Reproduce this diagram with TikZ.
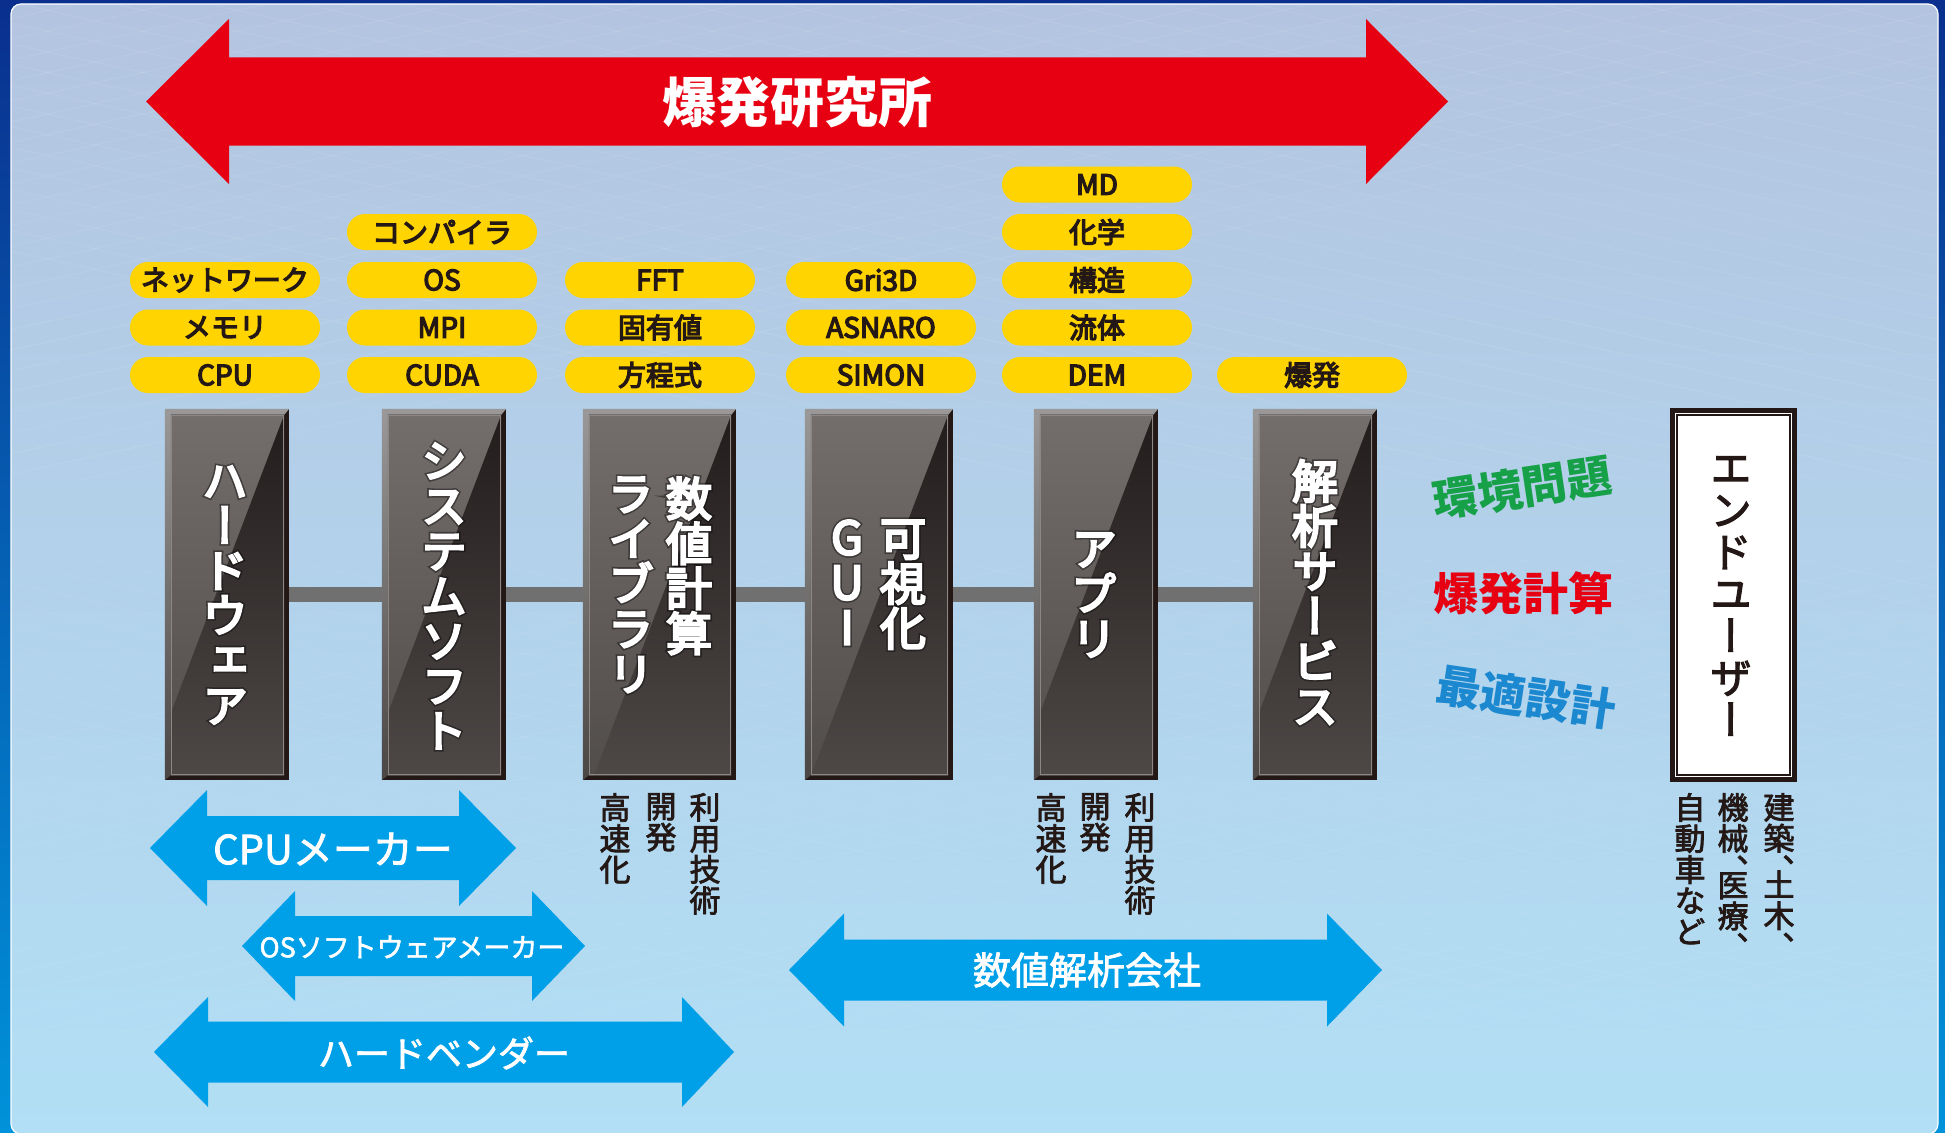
\documentclass[tikz,border=0pt]{standalone}
\usepackage{fontspec}
\setmainfont{Noto Sans CJK JP}
\newfontfamily\jpmed[FakeBold=2]{Noto Sans CJK JP}
\newfontfamily\jppill[FakeBold=4.5]{Noto Sans CJK JP}
\newfontfamily\jpv[RawFeature=+vert]{Noto Sans CJK JP}
\newfontfamily\jpvmed[RawFeature=+vert,FakeBold=2.5]{Noto Sans CJK JP}
\newfontfamily\jpvhvy[RawFeature=+vert,FakeBold=5]{Noto Sans CJK JP}
\newfontfamily\jpglow[RawFeature=+vert,FakeBold=12]{Noto Sans CJK JP}
\usetikzlibrary{calc}
\definecolor{frameTop}{HTML}{0A2F8E}
\definecolor{frameBot}{HTML}{0092DA}
\definecolor{panelTop}{HTML}{B3C4E0}
\definecolor{panelBot}{HTML}{B2DFF5}
\definecolor{redA}{HTML}{E60012}
\definecolor{blueA}{HTML}{00A0E9}
\definecolor{pillY}{HTML}{FFD400}
\definecolor{inkK}{HTML}{231815}
\definecolor{barG}{HTML}{717071}
\definecolor{greenW}{HTML}{16A048}
\definecolor{blueW}{HTML}{1C88CF}
\definecolor{bevTop}{HTML}{9A9898}
\definecolor{bevBot}{HTML}{4A4645}
\definecolor{litTop}{HTML}{736D6B}
\definecolor{litBot}{HTML}{514D4B}
\definecolor{drkTop}{HTML}{221D1C}
\definecolor{drkBot}{HTML}{6A6563}
\definecolor{lineIn}{HTML}{8C8785}
\tikzset{
  pill/.style={fill=pillY, rounded corners=18pt, minimum width=190pt, minimum height=36pt,
    inner sep=0pt, text=inkK, font=\jppill\fontsize{28}{30}\selectfont},
  pillarbox/.style={minimum width=#1, minimum height=371pt, inner sep=0pt},
  linkbar/.style={draw=barG, line width=15pt},
  ptext/.style={align=center, inner sep=0pt, text=white, font=\jpvhvy\fontsize{46}{45}\selectfont},
  pglow/.style={align=center, inner sep=0pt, text=black, opacity=0.4, font=\jpglow\fontsize{46}{45}\selectfont},
  arrtxt/.style={inner sep=0pt, text=white},
  captxt/.style={align=center, inner sep=0pt, anchor=north, text=inkK, font=\jpvmed\fontsize{31}{31}\selectfont},
  wordtxt/.style={inner sep=0pt, font=\bfseries\fontsize{45}{45}\selectfont},
}
\newcommand\dblarrow[8]{%
  \fill[#8] (#1,#5) -- (#2,#5-#6) -- (#2,#5-#7) -- (#3,#5-#7) -- (#3,#5-#6) -- (#4,#5)
    -- (#3,#5+#6) -- (#3,#5+#7) -- (#2,#5+#7) -- (#2,#5+#6) -- cycle;}
\newcommand\drawpillar[1]{%
  \fill[inkK] (#1.north west) rectangle (#1.south east);
  \shade[top color=bevTop, bottom color=bevBot] (#1.north west) -- (#1.north east)
    -- ($(#1.north east)+(-5,6)$) -- ($(#1.north west)+(6,6)$) -- ($(#1.south west)+(6,-5)$)
    -- (#1.south west) -- cycle;
  \begin{scope}
    \clip ($(#1.north west)+(6,6)$) rectangle ($(#1.south east)+(-5,-5)$);
    \shade[top color=litTop, bottom color=litBot] ($(#1.north west)+(6,6)$) rectangle ($(#1.south east)+(-5,-5)$);
    \shade[top color=drkTop, bottom color=drkBot] ($(#1.north east)+(-5,6)$) -- ++(-228,600) -- ++(528,0) -- ++(0,-600) -- cycle;
  \end{scope}
  \draw[draw=lineIn, line width=1.3pt] ($(#1.north west)+(6.6,6.6)$) rectangle ($(#1.south east)+(-5.6,-5.6)$);
}
\begin{document}
\begin{tikzpicture}[x=1pt, y=-1pt]
\useasboundingbox (0,0) rectangle (1945,1132);
% background
\shade[top color=frameTop, bottom color=frameBot] (0,0) rectangle (1945,1132);
\shadedraw[top color=panelTop, bottom color=panelBot, draw=white, line width=1.2pt, rounded corners=10pt] (11,4) rectangle (1938,1134);
\begin{scope}
  \clip[rounded corners=10pt] (11,4) rectangle (1938,1134);
  \foreach \i in {-12,...,24} {
    \draw[white, opacity=0.07, line width=1.2pt] (\i*95,0) -- ++(2200,480);
    \draw[white, opacity=0.07, line width=1.2pt] (\i*95,0) -- ++(-2200,480);
    \draw[white, opacity=0.05, line width=1.2pt] (\i*95,560) -- ++(2200,480);
    \draw[white, opacity=0.05, line width=1.2pt] (\i*95+2000,560) -- ++(-2200,480);
  }
\end{scope}

% red arrow
\dblarrow{146}{229}{1366}{1448}{101.5}{82.5}{44}{redA}
\node[arrtxt, font=\bfseries\fontsize{54}{54}\selectfont] (bk) at (797,102) {爆発研究所};

% pills
\node[pill] (p11) at (225,280) {ネットワーク};
\node[pill] (p12) at (225,327.5) {メモリ};
\node[pill] (p13) at (225,375) {CPU};
\node[pill] (p20) at (442,232) {コンパイラ};
\node[pill] (p21) at (442,280) {OS};
\node[pill] (p22) at (442,327.5) {MPI};
\node[pill] (p23) at (442,375) {CUDA};
\node[pill] (p31) at (660,280) {FFT};
\node[pill] (p32) at (660,327.5) {固有値};
\node[pill] (p33) at (660,375) {方程式};
\node[pill] (p41) at (881,280) {Gri3D};
\node[pill] (p42) at (881,327.5) {ASNARO};
\node[pill] (p43) at (881,375) {SIMON};
\node[pill] (p5a) at (1097,184.5) {MD};
\node[pill] (p5b) at (1097,232) {化学};
\node[pill] (p51) at (1097,280) {構造};
\node[pill] (p52) at (1097,327.5) {流体};
\node[pill] (p53) at (1097,375) {DEM};
\node[pill] (p63) at (1312,375) {爆発};

% pillars
\node[pillarbox=124pt] (b1) at (227,594.5) {};
\node[pillarbox=124pt] (b2) at (444,594.5) {};
\node[pillarbox=153pt] (b3) at (659.5,594.5) {};
\node[pillarbox=148pt] (b4) at (879,594.5) {};
\node[pillarbox=124pt] (b5) at (1096,594.5) {};
\node[pillarbox=124pt] (b6) at (1315,594.5) {};
\draw[linkbar] (b1.east) -- (b2.west);
\draw[linkbar] (b2.east) -- (b3.west);
\draw[linkbar] (b3.east) -- (b4.west);
\draw[linkbar] (b4.east) -- (b5.west);
\draw[linkbar] (b5.east) -- (b6.west);
\drawpillar{b1}\drawpillar{b2}\drawpillar{b3}\drawpillar{b4}\drawpillar{b5}\drawpillar{b6}

\node[pglow] (g1) at (225,595) {ハ\\ー\\ド\\ウ\\ェ\\ア};
\node[ptext] (t1) at (225,595) {ハ\\ー\\ド\\ウ\\ェ\\ア};
\node[pglow] (g2) at (444,596) {シ\\ス\\テ\\ム\\ソ\\フ\\ト};
\node[ptext] (t2) at (444,596) {シ\\ス\\テ\\ム\\ソ\\フ\\ト};
\node[pglow, anchor=north] (g3a) at (689,477) {数\\値\\計\\算};
\node[ptext, anchor=north] (t3a) at (689,477) {数\\値\\計\\算};
\node[pglow, anchor=north] (g3b) at (631,477) {ラ\\イ\\ブ\\ラ\\リ};
\node[ptext, anchor=north] (t3b) at (631,477) {ラ\\イ\\ブ\\ラ\\リ};
\node[pglow, anchor=north] (g4a) at (903,520) {可\\視\\化};
\node[ptext, anchor=north] (t4a) at (903,520) {可\\視\\化};
\node[pglow, anchor=north] (g4b) at (847,520) {G\\U\\I};
\node[ptext, anchor=north] (t4b) at (847,520) {G\\U\\I};
\node[pglow] (g5) at (1094,595) {ア\\プ\\リ};
\node[ptext] (t5) at (1094,595) {ア\\プ\\リ};
\node[pglow] (g6) at (1315,592) {解\\析\\サ\\ー\\ビ\\ス};
\node[ptext] (t6) at (1315,592) {解\\析\\サ\\ー\\ビ\\ス};

% captions below pillars
\node[captxt] (c3a) at (705,793) {利\\用\\技\\術};
\node[captxt] (c3b) at (661,793) {開\\発};
\node[captxt] (c3c) at (615,793) {高\\速\\化};
\node[captxt] (c5a) at (1140,793) {利\\用\\技\\術};
\node[captxt] (c5b) at (1095,793) {開\\発};
\node[captxt] (c5c) at (1051,793) {高\\速\\化};

% end user
\node[draw=inkK, line width=5pt, fill=white, minimum width=122pt, minimum height=369pt, inner sep=0pt] (eu) at (1733.5,595) {};
\draw[inkK, line width=1.5pt] ($(eu.north west)+(7,7)$) rectangle ($(eu.south east)+(-7,-7)$);
\node[align=center, inner sep=0pt, text=inkK, font=\jpvmed\fontsize{42}{42}\selectfont] (eut) at (1731,596) {エ\\ン\\ド\\ユ\\ー\\ザ\\ー};
\node[captxt] (u1) at (1779,793) {建\\築\\、\\[-15.5pt]土\\木\\、};
\node[captxt] (u2) at (1733,793) {機\\械\\、\\[-15.5pt]医\\療\\、};
\node[captxt] (u3) at (1690,793) {自\\動\\車\\な\\ど};

% colored words
\node[wordtxt, text=greenW, rotate=8.5] (w1) at (1522,488) {環境問題};
\node[wordtxt, text=redA] (w2) at (1523,593) {爆発計算};
\node[wordtxt, text=blueW, rotate=-8.5] (w3) at (1526,697) {最適設計};

% blue arrows
\dblarrow{150}{207}{459}{516}{848}{58}{32}{blueA}
\node[arrtxt, font=\jpmed\fontsize{40}{40}\selectfont] (a1) at (333,849) {CPUメーカー};
\dblarrow{242}{295}{532}{585}{946}{55}{30}{blueA}
\node[arrtxt, font=\jpmed\fontsize{27}{27}\selectfont] (a2) at (412,947) {OSソフトウェアメーカー};
\dblarrow{154}{208}{682}{734}{1052}{55}{30.5}{blueA}
\node[arrtxt, font=\jpmed\fontsize{36}{36}\selectfont] (a3) at (444,1053) {ハードベンダー};
\dblarrow{789}{844}{1327}{1382}{970}{56.5}{30.5}{blueA}
\node[arrtxt, font=\jpmed\fontsize{38}{38}\selectfont] (a4) at (1087,970) {数値解析会社};
\end{tikzpicture}
\end{document}
